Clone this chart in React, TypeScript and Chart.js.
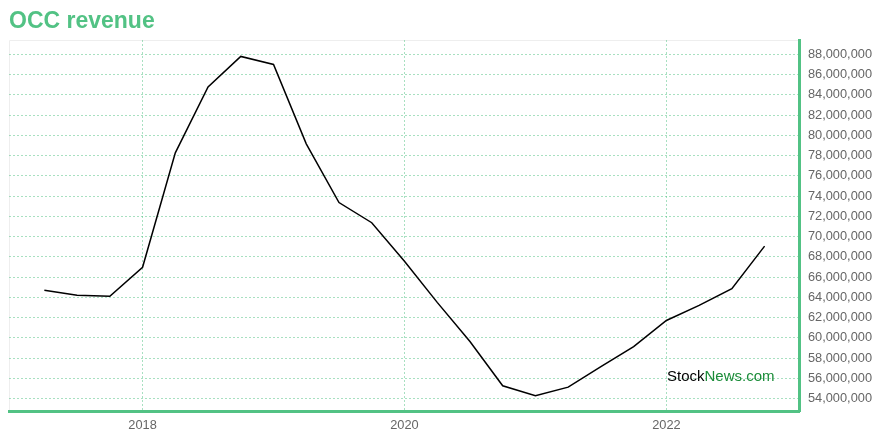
import React, { useEffect, useRef } from "react";
import { Chart, registerables } from "chart.js";

Chart.register(...registerables);

const quarters: number[] = [
  2017.25, 2017.5, 2017.75, 2018.0, 2018.25, 2018.5, 2018.75, 2019.0,
  2019.25, 2019.5, 2019.75, 2020.0, 2020.25, 2020.5, 2020.75, 2021.0,
  2021.25, 2021.5, 2021.75, 2022.0, 2022.25, 2022.5, 2022.75,
];
const revenue: number[] = [
  64.69, 64.2, 64.1, 66.97, 78.27, 84.78, 87.8, 87.0,
  79.16, 73.36, 71.37, 67.57, 63.5, 59.63, 55.26, 54.27,
  55.13, 57.15, 59.13, 61.71, 63.2, 64.86, 69.06,
].map((v) => v * 1e6);
const xTickYears: number[] = [2018, 2020, 2022];
const titleText = "OCC revenue";

const GREEN = "#52c284";
const GRID = "rgba(82,194,132,0.5)";
const FONT = "'Liberation Sans', Arial, sans-serif";

const framePlugin = {
  id: "frame",
  beforeDraw(chart: any) {
    const { ctx, chartArea } = chart;
    ctx.save();
    ctx.strokeStyle = "#eeeeee";
    ctx.lineWidth = 1;
    ctx.beginPath();
    ctx.moveTo(chartArea.left + 0.5, chartArea.bottom);
    ctx.lineTo(chartArea.left + 0.5, chartArea.top + 0.5);
    ctx.lineTo(chartArea.right, chartArea.top + 0.5);
    ctx.stroke();
    ctx.restore();
  },
  afterDraw(chart: any) {
    const { ctx, chartArea } = chart;
    ctx.save();
    ctx.font = "15px " + FONT;
    ctx.textBaseline = "alphabetic";
    const x = chartArea.right - 133;
    const y = chartArea.bottom - 31;
    ctx.fillStyle = "#000000";
    ctx.fillText("Stock", x, y);
    const w = ctx.measureText("Stock").width;
    ctx.fillStyle = "#1a8c38";
    ctx.fillText("News.com", x + w, y);
    ctx.restore();
  },
};

export default function App() {
  const ref = useRef<HTMLCanvasElement | null>(null);
  useEffect(() => {
    document.body.style.margin = "0";
    const canvas = ref.current;
    if (!canvas) return;
    const chart = new Chart(canvas, {
      type: "line",
      data: {
        datasets: [
          {
            label: "Revenue",
            data: quarters.map((q, i) => ({ x: q, y: revenue[i] })),
            borderColor: "#000000",
            borderWidth: 1.5,
            pointRadius: 0,
            fill: false,
            tension: 0,
          },
        ],
      },
      options: {
        animation: false,
        responsive: false,
        maintainAspectRatio: false,
        layout: { padding: { left: 9, right: 0, top: 0, bottom: 0 } },
        plugins: {
          legend: { display: false },
          tooltip: { enabled: false },
          title: {
            display: true,
            text: titleText,
            align: "start",
            color: GREEN,
            font: { family: FONT, size: 23, weight: "bold", lineHeight: 1.2 },
            padding: { top: 8, bottom: 4.4 },
          },
        },
        scales: {
          x: {
            type: "linear",
            min: 2016.98,
            max: 2023.02,
            afterBuildTicks: (scale: any) => {
              scale.ticks = xTickYears.map((v) => ({ value: v }));
            },
            ticks: {
              color: "#666666",
              font: { family: FONT, size: 12.8, lineHeight: 1.1 },
              padding: 7,
              maxRotation: 0,
              callback: (v: any) => String(v),
            },
            grid: { color: GRID, drawTicks: false, lineWidth: 1 },
            border: { display: true, color: GREEN, width: 3, dash: [2, 2] },
          },
          y: {
            type: "linear",
            position: "right",
            min: 52.68e6,
            max: 89.42e6,
            afterBuildTicks: (scale: any) => {
              const t = [];
              for (let v = 54e6; v <= 88e6; v += 2e6) t.push({ value: v });
              scale.ticks = t;
            },
            ticks: {
              color: "#666666",
              font: { family: FONT, size: 12.8 },
              padding: 8,
              callback: (v: any) => Number(v).toLocaleString("en-US"),
            },
            grid: { color: GRID, drawTicks: false, lineWidth: 1 },
            border: { display: true, color: GREEN, width: 3, dash: [2, 2] },
          },
        },
      },
      plugins: [framePlugin],
    } as any);
    return () => chart.destroy();
  }, []);
  return (
    <div style={{ width: 880, height: 440, position: "relative" }}>
      <canvas ref={ref} width={880} height={440} style={{ width: 880, height: 440, display: "block" }} />
    </div>
  );
}
